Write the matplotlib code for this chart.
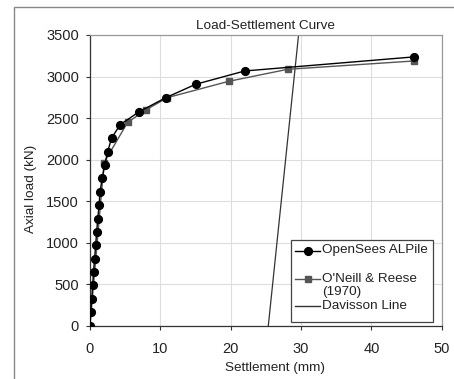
import numpy as np
import matplotlib
matplotlib.use('Agg')
from matplotlib import pyplot as plt
from matplotlib.lines import Line2D
from matplotlib.patches import Rectangle

plt.rcParams['font.family'] = ['Liberation Sans', 'DejaVu Sans']

# OpenSees ALPile
opensees_x = [0, 0.1, 0.24, 0.38, 0.5, 0.66, 0.8, 0.95, 1.1, 1.3, 1.42, 1.75, 2.1, 2.5, 3.1, 4.3, 7.0, 10.8, 15.0, 22.0, 46.0]
opensees_y = [0, 160, 321, 486, 646, 807, 967, 1128, 1289, 1453, 1614, 1774, 1935, 2096, 2264, 2421, 2577, 2746, 2906, 3067, 3236]

# O'Neill & Reese (1970)
oneill_x = [0, 2.0, 5.35, 8.0, 11.0, 19.7, 28.1, 46.0]
oneill_y = [0, 1963, 2449, 2601, 2746, 2942, 3087, 3187]

# Davisson line
davisson_x = [25.35, 29.65]
davisson_y = [0, 3500]

W, H = 454, 379
fig = plt.figure(figsize=(W / 100, H / 100), dpi=100)

def fx(px):
    return px / W

def fy(py):
    return 1 - py / H

ax = fig.add_axes([fx(90), fy(325.7), fx(441.7) - fx(90), fy(35) - fy(325.7)])

ax.plot(opensees_x, opensees_y, color='black', lw=1.0, marker='o', ms=5.6,
        mfc='black', mec='black', zorder=4)
ax.plot(oneill_x, oneill_y, color='#555555', lw=1.0, marker='s', ms=5.0,
        mfc='#555555', mec='#555555', zorder=3)
ax.plot(davisson_x, davisson_y, color='#333333', lw=0.9, zorder=2)

ax.set_xlim(0, 50)
ax.set_ylim(0, 3500)
ax.set_xticks(np.arange(0, 51, 10))
ax.set_yticks(np.arange(0, 3501, 500))
ax.grid(True, color='#dddddd', lw=0.8)
ax.set_axisbelow(True)

for s in ['left', 'bottom']:
    ax.spines[s].set_color('#333333')
    ax.spines[s].set_linewidth(0.9)
for s in ['top', 'right']:
    ax.spines[s].set_color('#999999')
    ax.spines[s].set_linewidth(0.9)

ax.tick_params(axis='x', direction='out', length=3, width=0.8, color='#333333',
               pad=9, labelsize=10.5, labelcolor='#222222')
ax.tick_params(axis='y', direction='out', length=3, width=0.8, color='#333333',
               pad=5, labelsize=10.5, labelcolor='#222222')

lab_size = 9.7
ax.set_title('Load-Settlement Curve', fontsize=lab_size, color='#222222', pad=4)
ax.set_xlabel('Settlement (mm)', fontsize=lab_size, color='#222222')
ax.set_ylabel('Axial load (kN)', fontsize=lab_size, color='#222222')
ax.xaxis.set_label_coords(0.526, -0.125)
ax.yaxis.set_label_coords(-0.151, 0.47)

# legend drawn by hand (Excel style, wrapped label)
fig.patches.append(Rectangle((fx(291), fy(321.7)), fx(433) - fx(291), fy(240) - fy(321.7),
                             transform=fig.transFigure, facecolor='white',
                             edgecolor='#444444', lw=0.9, zorder=5))
rows = [
    (250.5, 'black', 'o', 5.6, 'OpenSees ALPile'),
    (279, '#555555', 's', 5.0, "O'Neill & Reese"),
    (306, '#333333', None, 0, 'Davisson Line'),
]
for ypx, col, mk, ms, lab in rows:
    fig.add_artist(Line2D([fx(295), fx(320)], [fy(ypx), fy(ypx)], color=col, lw=1.0,
                          transform=fig.transFigure, zorder=6))
    if mk:
        fig.add_artist(Line2D([fx(307.5)], [fy(ypx)], color=col, marker=mk, ms=ms,
                              mfc=col, mec=col, transform=fig.transFigure, zorder=6))
    fig.text(fx(322.5), fy(ypx), lab, fontsize=lab_size, color='#222222',
             ha='left', va='center', zorder=7)
fig.text(fx(322.5), fy(292.5), '(1970)', fontsize=lab_size, color='#222222',
         ha='left', va='center', zorder=7)

# outer chart frame (left and top edges only visible)
fig.add_artist(Line2D([fx(14), fx(14), 1], [0, fy(7), fy(7)], color='#888888', lw=1.0,
                      transform=fig.transFigure))

fig.savefig('out.png', dpi=100)
